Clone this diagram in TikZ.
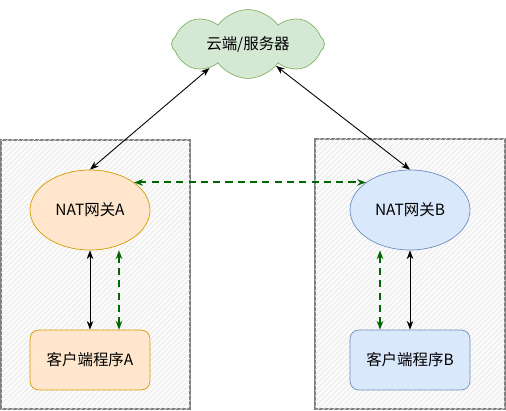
\documentclass[tikz,border=0pt]{standalone}
\usepackage{fontspec}
\setmainfont{Noto Sans CJK SC}
\usepackage{xcolor}
\usepackage{tikz}
\usetikzlibrary{shapes.geometric, shapes.symbols, patterns, arrows.meta}

\definecolor{cloudfill}{HTML}{D5E8D4}
\definecolor{clouddraw}{HTML}{82B366}
\definecolor{orangefill}{HTML}{FFE6CC}
\definecolor{orangedraw}{HTML}{D79B00}
\definecolor{bluefill}{HTML}{DAE8FC}
\definecolor{bluedraw}{HTML}{6C8EBF}
\definecolor{darkgreen}{HTML}{006600}

\begin{document}
\begin{tikzpicture}[x=0.02cm, y=-0.02cm,
  font=\fontsize{8.8}{10}\selectfont,
  lan/.style={draw=gray, line width=0.8pt, fill=gray!3, postaction={pattern=north east lines, pattern color=gray!18}},
  gateway/.style={ellipse, minimum width=2.4cm, minimum height=1.6cm, inner sep=0pt},
  client/.style={rectangle, rounded corners=5pt, minimum width=2.4cm, minimum height=1.2cm},
  link/.style={{Stealth[length=5pt]}-{Stealth[length=5pt]}, black, line width=0.5pt},
  punch/.style={{Stealth[length=5pt]}-{Stealth[length=5pt]}, darkgreen, line width=1.1pt, dash pattern=on 4pt off 3pt}]
\useasboundingbox (0,0) rectangle (506,411);

% two local networks
\draw[lan] (1,140) rectangle (190,409);
\draw[lan] (315,139) rectangle (505,409);

\node[cloud, cloud puffs=8, cloud puff arc=110, aspect=2.4, draw=clouddraw, fill=cloudfill, minimum width=3.06cm, minimum height=1.28cm, inner sep=0pt] (server) at (248,44) {云端/服务器};

\node[gateway, draw=orangedraw, fill=orangefill] (natA) at (90,210) {NAT网关A};
\node[gateway, draw=bluedraw, fill=bluefill] (natB) at (410,210) {NAT网关B};
\node[client, draw=orangedraw, fill=orangefill] (cliA) at (90,360) {客户端程序A};
\node[client, draw=bluedraw, fill=bluefill] (cliB) at (410,360) {客户端程序B};

\draw[link] (server.212) -- (natA.north);
\draw[link] (server.322) -- (natB.north);
\draw[punch] (natA.32) -- (natB.148);

\draw[link] (natA.south) -- (cliA.north);
\draw[link] (natB.south) -- (cliB.north);
\draw[punch] ([xshift=0.58cm]cliA.north |- natA.south) -- ([xshift=0.58cm]cliA.north);
\draw[punch] ([xshift=-0.6cm]cliB.north |- natB.south) -- ([xshift=-0.6cm]cliB.north);

\end{tikzpicture}
\end{document}
